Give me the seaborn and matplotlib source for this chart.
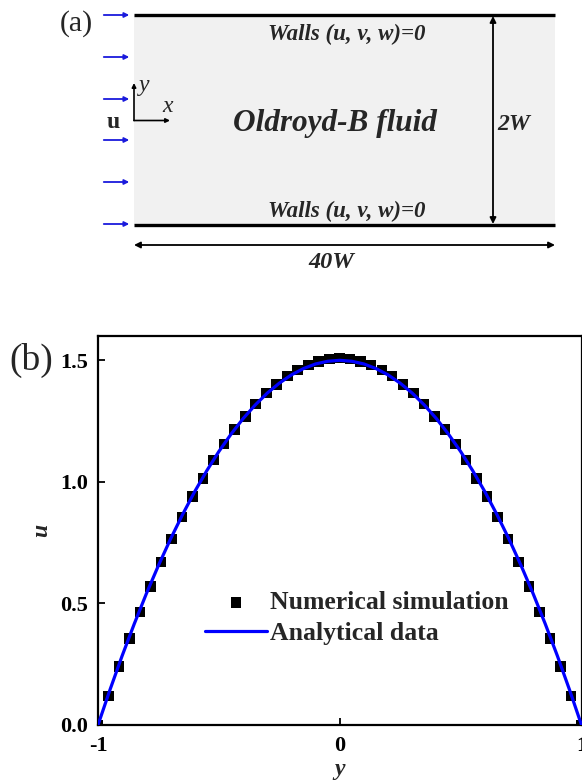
import numpy as np
import pandas as pd
import seaborn as sns
import matplotlib.pyplot as plt
from matplotlib.patches import Rectangle, FancyArrowPatch

sns.set_theme(style='ticks')
plt.rcParams['font.family'] = ['Liberation Serif', 'DejaVu Serif']
plt.rcParams['axes.unicode_minus'] = False

# panel (b) data: velocity profile across the channel
y_num = [-1.0, -0.957, -0.913, -0.870, -0.826, -0.783, -0.739, -0.696,
         -0.652, -0.609, -0.565, -0.522, -0.478, -0.435, -0.391, -0.348,
         -0.304, -0.261, -0.217, -0.174, -0.130, -0.087, -0.043, 0.0,
         0.043, 0.087, 0.130, 0.174, 0.217, 0.261, 0.304, 0.348,
         0.391, 0.435, 0.478, 0.522, 0.565, 0.609, 0.652, 0.696,
         0.739, 0.783, 0.826, 0.870, 0.913, 0.957, 1.0]
u_num = [0.0, 0.12, 0.24, 0.355, 0.465, 0.57, 0.67, 0.765,
         0.855, 0.94, 1.015, 1.09, 1.155, 1.215, 1.27, 1.32,
         1.365, 1.40, 1.435, 1.46, 1.48, 1.495, 1.505, 1.51,
         1.505, 1.495, 1.48, 1.46, 1.435, 1.40, 1.365, 1.32,
         1.27, 1.215, 1.155, 1.09, 1.015, 0.94, 0.855, 0.765,
         0.67, 0.57, 0.465, 0.355, 0.24, 0.12, 0.0]

y_ana = [-1.0, -0.95, -0.9, -0.85, -0.8, -0.75, -0.7, -0.65, -0.6, -0.55,
         -0.5, -0.45, -0.4, -0.35, -0.3, -0.25, -0.2, -0.15, -0.1, -0.05,
         0.0, 0.05, 0.1, 0.15, 0.2, 0.25, 0.3, 0.35, 0.4, 0.45,
         0.5, 0.55, 0.6, 0.65, 0.7, 0.75, 0.8, 0.85, 0.9, 0.95, 1.0]
u_ana = [0.0, 0.146, 0.285, 0.416, 0.54, 0.656, 0.765, 0.866, 0.96, 1.046,
         1.125, 1.196, 1.26, 1.316, 1.365, 1.406, 1.44, 1.466, 1.485, 1.496,
         1.5, 1.496, 1.485, 1.466, 1.44, 1.406, 1.365, 1.316, 1.26, 1.196,
         1.125, 1.046, 0.96, 0.866, 0.765, 0.656, 0.54, 0.416, 0.285, 0.146, 0.0]

x_ticks = [-1, 0, 1]
x_ticklabels = ['-1', '0', '1']
y_ticks = [0.0, 0.5, 1.0, 1.5]
y_ticklabels = ['0.0', '0.5', '1.0', '1.5']

num_df = pd.DataFrame({'y': y_num, 'u': u_num})
ana_df = pd.DataFrame({'y': y_ana, 'u': u_ana})

fig = plt.figure(figsize=(5.82, 7.8), dpi=100)

# ---- panel (a): channel schematic, drawn in pixel-like coordinates ----
H = 312
ax_a = fig.add_axes([0, 1 - H / 780, 1, H / 780])
ax_a.set_xlim(0, 582)
ax_a.set_ylim(H, 0)
ax_a.axis('off')

x0, x1, ytop, ybot = 134, 555, 15, 225
ax_a.add_patch(Rectangle((x0, ytop), x1 - x0, ybot - ytop,
                         facecolor='#f1f1f1', edgecolor='none'))
ax_a.plot([x0, x1], [ytop, ytop], color='black', lw=2.4, solid_capstyle='butt')
ax_a.plot([x0, x1], [ybot, ybot], color='black', lw=2.4, solid_capstyle='butt')

# inlet arrows
for ya in [15, 57, 99, 140, 182, 224]:
    ax_a.add_patch(FancyArrowPatch((101, ya), (132, ya), arrowstyle='-|>',
                                   mutation_scale=7, color='#1a1adc', lw=1.3))

# dimension arrows
ax_a.add_patch(FancyArrowPatch((493, ytop + 1), (493, ybot - 1), arrowstyle='<|-|>',
                               mutation_scale=9, color='black', lw=1.3,
                               shrinkA=0, shrinkB=0))
ax_a.add_patch(FancyArrowPatch((x0, 245), (x1, 245), arrowstyle='<|-|>',
                               mutation_scale=9, color='black', lw=1.3,
                               shrinkA=0, shrinkB=0))

# coordinate frame
ax_a.add_patch(FancyArrowPatch((134, 120.5), (170, 120.5), arrowstyle='-|>',
                               mutation_scale=6, color='black', lw=1.2,
                               shrinkA=0, shrinkB=0))
ax_a.add_patch(FancyArrowPatch((134, 120.5), (134, 83), arrowstyle='-|>',
                               mutation_scale=6, color='black', lw=1.2,
                               shrinkA=0, shrinkB=0))
ax_a.text(144, 86, 'y', fontsize=17, style='italic', ha='center', va='center')
ax_a.text(168, 106, 'x', fontsize=17, style='italic', ha='center', va='center')
ax_a.text(113, 122, 'u', fontsize=17, fontweight='bold', ha='center', va='center')

ax_a.text(76, 24, '(a)', fontsize=21.5, ha='center', va='center')
ax_a.text(347, 34, 'Walls (u, v, w)=0', fontsize=16.5, fontweight='bold',
          style='italic', ha='center', va='center')
ax_a.text(347, 211, 'Walls (u, v, w)=0', fontsize=16.5, fontweight='bold',
          style='italic', ha='center', va='center')
ax_a.text(335, 124, 'Oldroyd-B fluid', fontsize=22.5, fontweight='bold',
          style='italic', ha='center', va='center')
ax_a.text(514, 124, '2W', fontsize=17, fontweight='bold',
          style='italic', ha='center', va='center')
ax_a.text(331, 262, '40W', fontsize=17.5, fontweight='bold',
          style='italic', ha='center', va='center')

# ---- panel (b): velocity profile ----
ax = fig.add_axes([98 / 582, 55 / 780, 483.5 / 582, 389 / 780])
sns.scatterplot(data=num_df, x='y', y='u', ax=ax, marker='s', s=58,
                color='black', edgecolor='none', zorder=2,
                label='Numerical simulation')
sns.lineplot(data=ana_df, x='y', y='u', ax=ax, color='#0000ff', lw=2.3,
             zorder=3, label='Analytical data', sort=False)

ax.set_xlim(-1, 1)
ax.set_ylim(0, 1.6)
ax.set_xticks(x_ticks)
ax.set_xticklabels(x_ticklabels)
ax.set_yticks(y_ticks)
ax.set_yticklabels(y_ticklabels)
ax.tick_params(direction='in', length=5, width=1.3, labelsize=16, pad=7,
               colors='black')
ax.tick_params(axis='x', pad=8)
for lab in ax.get_xticklabels() + ax.get_yticklabels():
    lab.set_fontweight('bold')
for sp in ax.spines.values():
    sp.set_visible(True)
    sp.set_linewidth(1.6)
    sp.set_color('black')
ax.set_xlabel('y', fontsize=17, fontweight='bold', style='italic', labelpad=2)
ax.set_ylabel('u', fontsize=17, fontweight='bold', style='italic', labelpad=6)
ax.set_facecolor('white')

leg = ax.legend(loc='upper left', bbox_to_anchor=(0.2, 0.37), frameon=False,
                prop={'size': 18.5, 'weight': 'bold'}, handlelength=2.4,
                handletextpad=0.15, labelspacing=0.3, borderaxespad=0)

fig.text(31 / 582, 1 - 360 / 780, '(b)', fontsize=27, ha='center', va='center')

fig.savefig('out.png', dpi=100)
